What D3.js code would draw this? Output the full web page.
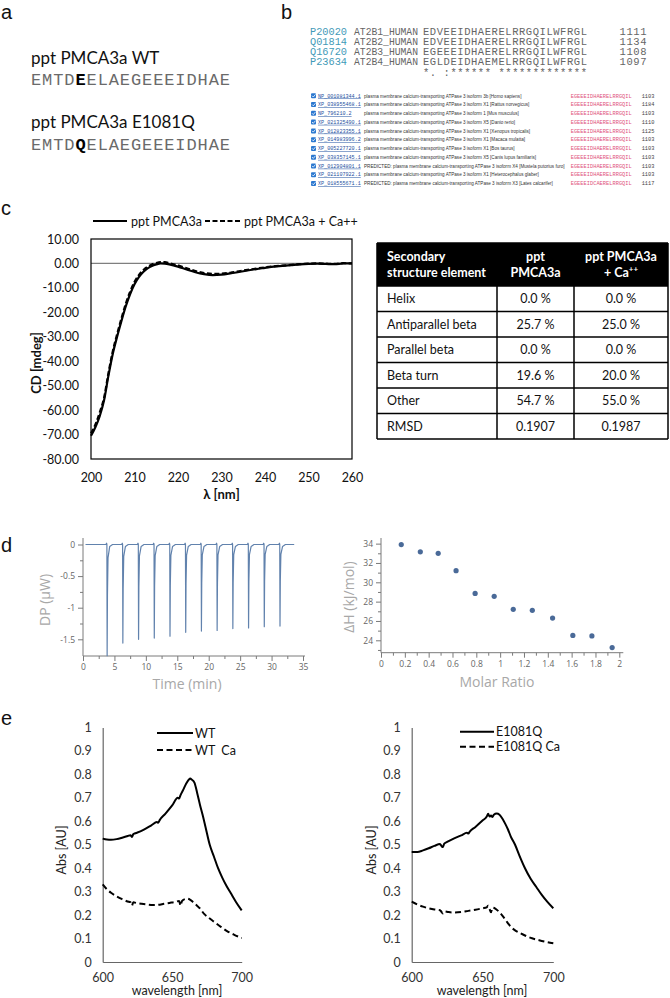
<!DOCTYPE html>
<html><head><meta charset="utf-8">
<script src="https://cdn.jsdelivr.net/npm/d3@7"></script>
<style>body{margin:0;background:#fff}svg{display:block}</style>
</head><body>
<script>
// ---------- DATA ----------
// panel a
const peptideNames = ["ppt PMCA3a WT", "ppt PMCA3a E1081Q"];
const peptideSeqs = ["EMTDEELAEGEEEIDHAE", "EMTDQELAEGEEEIDHAE"];
const mutatedIndex = 4;
// panel b – clustal alignment
const alignIds = ["P20020", "Q01814", "Q16720", "P23634"];
const alignNames = ["AT2B1_HUMAN", "AT2B2_HUMAN", "AT2B3_HUMAN", "AT2B4_HUMAN"];
const alignSeqs = ["EDVEEIDHAERELRRGQILWFRGL", "EDVEEIDHAERELRRGQILWFRGL", "EGEEEIDHAERELRRGQILWFRGL", "EGLDEIDHAEMELRRGQILWFRGL"];
const alignEnds = ["1111", "1134", "1108", "1097"];
const alignConservation = "*. :****** *************";
// panel b – blast list
const blastIds = ["NP_001081344.1","XP_038955468.1","NP_796210.2","XP_021325490.1","XP_012823355.1","XP_014983996.2","XP_005227720.1","XP_038357145.1","XP_012904801.1","XP_021107922.1","XP_018555671.1"];
const blastDescs = [
 "plasma membrane calcium-transporting ATPase 3 isoform 3b [Homo sapiens]",
 "plasma membrane calcium-transporting ATPase 3 isoform X1 [Rattus norvegicus]",
 "plasma membrane calcium-transporting ATPase 3 isoform 1 [Mus musculus]",
 "plasma membrane calcium-transporting ATPase 3 isoform X5 [Danio rerio]",
 "plasma membrane calcium-transporting ATPase 3 isoform X1 [Xenopus tropicalis]",
 "plasma membrane calcium-transporting ATPase 3 isoform X1 [Macaca mulatta]",
 "plasma membrane calcium-transporting ATPase 3 isoform X1 [Bos taurus]",
 "plasma membrane calcium-transporting ATPase 3 isoform X5 [Canis lupus familiaris]",
 "PREDICTED: plasma membrane calcium-transporting ATPase 3 isoform X4 [Mustela putorius furo]",
 "plasma membrane calcium-transporting ATPase 3 isoform X1 [Heterocephalus glaber]",
 "PREDICTED: plasma membrane calcium-transporting ATPase 3 isoform X3 [Lates calcarifer]"];
const blastSeqs = ["EGEEEIDHAERELRRGQIL","EGEEEIDHAERELRRGQIL","EGEEEIDHAERELRRGQIL","EGEEEIDHAERELRRGQIL","EGEEEIDHAERELRRGQIL","EGEEEIDHAERELRRGQIL","EGEEEIDHAERELRRGQIL","EGEEEIDHAERELRRGQIL","EGEEEIDHAERELRRGQIL","EGEEEIDHAERELRRGQIL","EGEEEIDCAERELRRGQIL"];
const blastEnds = ["1103","1184","1103","1110","1125","1103","1103","1103","1103","1103","1117"];
// panel c – CD spectra
const cdWavelength = [200,201,202,203,204,205,206,207,208,209,210,211,212,213,214,215,216,217,218,220,222,224,226,228,230,232,234,236,238,240,242,244,246,248,250,252,254,256,258,260];
const cdNoCa = [-70.5,-67,-62.5,-56,-46,-37,-30,-23.5,-17.5,-12.5,-8.5,-5.6,-3.5,-2.0,-1.0,-0.4,0.0,-0.1,-0.4,-1.3,-2.5,-3.6,-4.4,-4.8,-4.6,-4.1,-3.5,-2.9,-2.3,-1.8,-1.3,-1.0,-0.7,-0.4,-0.2,-0.1,-0.2,-0.3,0.0,0.0];
const cdCa   = [-69.5,-66,-61,-55,-45,-36,-29,-22.5,-16.5,-11.5,-7.6,-4.8,-2.8,-1.4,-0.4,0.2,0.5,0.5,0.1,-0.8,-2.0,-3.1,-3.9,-4.3,-4.2,-3.8,-3.2,-2.6,-2.1,-1.6,-1.2,-0.9,-0.6,-0.3,-0.1,0.0,-0.1,-0.2,0.1,0.0];
const cdLegend = ["ppt PMCA3a", "ppt PMCA3a + Ca++"];
// panel c – table
const tableHeaders = [["Secondary","structure element"],["ppt","PMCA3a"],["ppt PMCA3a","+ Ca"]];
const tableRows = ["Helix","Antiparallel beta","Parallel beta","Beta turn","Other","RMSD"];
const tableNoCa = ["0.0 %","25.7 %","0.0 %","19.6 %","54.7 %","0.1907"];
const tableCa = ["0.0 %","25.0 %","0.0 %","20.0 %","55.0 %","0.1987"];
// panel d – ITC
const itcTimes = [3.8,6.3,8.8,11.3,13.8,16.3,18.8,21.3,23.8,26.3,28.8,31.3];
const itcPeaks = [-1.76,-1.56,-1.50,-1.48,-1.45,-1.39,-1.37,-1.36,-1.33,-1.32,-1.30,-1.29];
const itcStart = 0.4, itcEnd = 33.6;
const molarRatio = [0.17,0.33,0.48,0.63,0.79,0.95,1.11,1.27,1.44,1.61,1.77,1.94];
const deltaH = [33.9,33.15,33.0,31.2,28.85,28.55,27.2,27.1,26.3,24.5,24.45,23.25];
// panel e – absorbance
const wtWl = [600,603,606,610,614,618,620,621,622,623,625,630,635,639,640,641,645,650,654,655,656,658,660,662,663,664,666,668,670,672,674,677,680,683,686,689,692,696,700];
const wtAbs = [0.526,0.522,0.521,0.524,0.530,0.537,0.541,0.533,0.545,0.548,0.552,0.566,0.583,0.597,0.594,0.605,0.632,0.668,0.700,0.697,0.712,0.735,0.760,0.778,0.782,0.778,0.765,0.720,0.670,0.625,0.575,0.500,0.450,0.400,0.360,0.325,0.295,0.255,0.220];
const wtCaWl = [600,603,606,610,614,618,620,621,622,624,628,632,636,640,644,648,652,655,656,657,659,661,663,665,667,670,673,676,680,685,690,695,700];
const wtCaAbs = [0.331,0.310,0.295,0.280,0.268,0.258,0.255,0.240,0.255,0.252,0.248,0.245,0.243,0.244,0.248,0.252,0.256,0.260,0.240,0.260,0.268,0.270,0.265,0.256,0.245,0.228,0.205,0.190,0.172,0.150,0.130,0.115,0.102];
const mutWl = [600,604,608,612,616,620,621,622,623,625,630,635,639,640,641,645,650,653,654,655,656,657,658,660,662,664,666,668,670,673,676,680,684,688,692,696,700];
const mutAbs = [0.469,0.469,0.476,0.485,0.495,0.503,0.495,0.490,0.505,0.512,0.527,0.540,0.551,0.548,0.556,0.576,0.603,0.620,0.632,0.620,0.625,0.618,0.628,0.633,0.628,0.612,0.590,0.565,0.535,0.500,0.455,0.400,0.355,0.320,0.285,0.255,0.229];
const mutCaWl = [600,604,608,612,616,620,621,622,623,626,630,635,640,645,650,653,654,655,656,657,659,661,663,665,668,670,673,676,680,685,690,695,700];
const mutCaAbs = [0.257,0.245,0.236,0.229,0.224,0.221,0.214,0.207,0.216,0.213,0.211,0.213,0.218,0.223,0.229,0.233,0.240,0.226,0.212,0.232,0.228,0.218,0.205,0.190,0.165,0.150,0.135,0.125,0.113,0.101,0.093,0.086,0.080];
const absLegendLeft = ["WT", "WT  Ca"];
const absLegendRight = ["E1081Q", "E1081Q Ca"];
const panelLetters = ["a","b","c","d","e"];

// ---------- DRAW ----------
const svg = d3.select("body").append("svg").attr("width",670).attr("height",998)
  .style("font-family","Lato, 'Open Sans', sans-serif");
svg.append("rect").attr("width",670).attr("height",998).attr("fill","#fff");

const letterPos = [[1,19],[281,19],[1,215],[1,552],[1,725]];
panelLetters.forEach((l,i)=>svg.append("text").attr("x",letterPos[i][0]).attr("y",letterPos[i][1])
  .attr("font-family","'Liberation Sans', Arial, sans-serif").attr("font-size",20).attr("fill","#111").text(l));

// panel a
const aNameY = [64, 128], aSeqY = [85, 150];
peptideNames.forEach((n,i)=>{
  svg.append("text").attr("x",31).attr("y",aNameY[i]).attr("font-size",17).attr("fill","#111").text(n);
  const s = peptideSeqs[i];
  const t = svg.append("text").attr("x",31).attr("y",aSeqY[i])
    .attr("font-family","'Liberation Mono', monospace").attr("font-size",17)
    .attr("letter-spacing",0.9).attr("fill","#6a6a6a");
  t.append("tspan").text(s.slice(0,mutatedIndex));
  t.append("tspan").attr("font-weight","bold").attr("fill","#000").text(s[mutatedIndex]);
  t.append("tspan").text(s.slice(mutatedIndex+1));
});

// panel b alignment
const bLineY = d3.scaleLinear().domain([0,4]).range([35,75.5]);
const mono = "'Liberation Mono', monospace";
alignIds.forEach((id,i)=>{
  const y = bLineY(i);
  svg.append("text").attr("x",310).attr("y",y).attr("font-family",mono).attr("font-size",10.5)
    .attr("fill","#3f9ab8").attr("textLength",37).attr("lengthAdjust","spacingAndGlyphs").text(id);
  svg.append("text").attr("x",354).attr("y",y).attr("font-family",mono).attr("font-size",10.5)
    .attr("fill","#666").attr("textLength",64).attr("lengthAdjust","spacingAndGlyphs").text(alignNames[i]);
  svg.append("text").attr("x",423).attr("y",y).attr("font-family",mono).attr("font-size",10.5)
    .attr("fill","#666").attr("textLength",164).attr("lengthAdjust","spacing").text(alignSeqs[i]);
  svg.append("text").attr("x",619.5).attr("y",y).attr("font-family",mono).attr("font-size",10.5)
    .attr("fill","#666").attr("textLength",27).attr("lengthAdjust","spacing").text(alignEnds[i]);
});
svg.append("text").attr("x",423).attr("y",bLineY(4)).attr("font-family",mono).attr("font-size",10.5)
  .attr("fill","#666").attr("textLength",164).attr("lengthAdjust","spacing")
  .style("white-space","pre").text(alignConservation);

// panel b blast list
const blastY = d3.scaleLinear().domain([0,10]).range([97.5,185.2]);
blastIds.forEach((id,i)=>{
  const y = blastY(i);
  svg.append("rect").attr("x",311).attr("y",y-4.2).attr("width",5).attr("height",5).attr("rx",1)
    .attr("fill","#2b78d0");
  svg.append("path").attr("d",`M${312},${y-1.8} l1.3,1.3 l2.2,-2.6`).attr("stroke","#fff")
    .attr("stroke-width",0.8).attr("fill","none");
  svg.append("text").attr("x",318).attr("y",y).attr("font-family",mono).attr("font-size",5.1)
    .attr("fill","#1d4fa0").attr("text-decoration","underline").text(id);
  svg.append("text").attr("x",364).attr("y",y).attr("font-family","'Liberation Sans', Arial, sans-serif")
    .attr("font-size",4.6).attr("fill","#333").text(blastDescs[i]);
  svg.append("text").attr("x",570.7).attr("y",y).attr("font-family",mono).attr("font-size",5.3)
    .attr("fill","#e0507c").attr("textLength",61).attr("lengthAdjust","spacing").text(blastSeqs[i]);
  svg.append("text").attr("x",641.7).attr("y",y).attr("font-family",mono).attr("font-size",5.3)
    .attr("fill","#444").text(blastEnds[i]);
});

// panel c – CD chart
const xC = d3.scaleLinear().domain([200,260]).range([91,352]);
const yC = d3.scaleLinear().domain([-80,10]).range([459,239]);
const gC = svg.append("g");
gC.append("line").attr("x1",xC(200)).attr("x2",xC(260)).attr("y1",yC(0)).attr("y2",yC(0))
  .attr("stroke","#7f7f7f").attr("stroke-width",1.3);
const yAxC = gC.append("g").attr("transform",`translate(${xC(200)},0)`)
  .call(d3.axisLeft(yC).tickValues(d3.range(-80,11,10)).tickSize(0).tickPadding(12).tickFormat(d=>d.toFixed(2)));
const xAxC = gC.append("g").attr("transform",`translate(0,${yC(-80)})`)
  .call(d3.axisBottom(xC).tickValues(d3.range(200,261,10)).tickSize(0).tickPadding(14));
[yAxC,xAxC].forEach(a=>{a.select(".domain").remove();
  a.selectAll("text").attr("font-family","Lato, sans-serif").attr("font-size",12.5).attr("fill","#111");});
const lineC = d3.line().x((d,i)=>xC(cdWavelength[i])).y(d=>yC(d)).curve(d3.curveMonotoneX);
gC.append("path").attr("d",lineC(cdNoCa)).attr("fill","none").attr("stroke","#000").attr("stroke-width",2.2);
gC.append("path").attr("d",lineC(cdCa)).attr("fill","none").attr("stroke","#000").attr("stroke-width",2.2)
  .attr("stroke-dasharray","5,2.5");
gC.append("rect").attr("x",xC(200)).attr("y",yC(10)).attr("width",xC(260)-xC(200)).attr("height",yC(-80)-yC(10))
  .attr("fill","none").attr("stroke","#000").attr("stroke-width",1.2);
gC.append("text").attr("x",(xC(200)+xC(260))/2).attr("y",499).attr("text-anchor","middle")
  .attr("font-weight","bold").attr("font-size",13).attr("fill","#111").text("λ [nm]");
gC.append("text").attr("transform","translate(41,363) rotate(-90)").attr("text-anchor","middle")
  .attr("font-weight","bold").attr("font-size",13).attr("fill","#111").text("CD [mdeg]");
// legend
const legC = [[93,127,131,null],[205,240,244,"5,2.5"]];
cdLegend.forEach((t,i)=>{
  const L = legC[i];
  gC.append("line").attr("x1",L[0]).attr("x2",L[1]).attr("y1",221).attr("y2",221).attr("stroke","#000")
    .attr("stroke-width",2.2).attr("stroke-dasharray",L[3]);
  gC.append("text").attr("x",L[2]).attr("y",225.5).attr("font-size",12.5).attr("fill","#111").text(t);
});

// panel c – table
const colX = [377,497,574,668];
const rowY = [243,286,311.5,337,362.5,388,413.5,439];
const gT = svg.append("g");
gT.append("rect").attr("x",colX[0]).attr("y",rowY[0]).attr("width",colX[3]-colX[0]).attr("height",rowY[1]-rowY[0]).attr("fill","#000");
rowY.forEach(y=>gT.append("line").attr("x1",colX[0]).attr("x2",colX[3]).attr("y1",y).attr("y2",y).attr("stroke","#000").attr("stroke-width",1.5));
colX.forEach(x=>gT.append("line").attr("x1",x).attr("x2",x).attr("y1",rowY[0]).attr("y2",rowY[7]).attr("stroke","#000").attr("stroke-width",1.5));
tableHeaders.forEach((h,c)=>{
  const x = c===0 ? colX[0]+10 : (colX[c]+colX[c+1])/2;
  h.forEach((line,k)=>{
    const t = gT.append("text").attr("x",x).attr("y",[261,276.5][k]).attr("font-size",12.5).attr("font-weight","bold")
      .attr("fill","#fff").attr("text-anchor",c===0?"start":"middle");
    t.append("tspan").text(line);
    if(c===2 && k===1) t.append("tspan").attr("font-size",8).attr("dy",-5).text("++");
  });
});
tableRows.forEach((r,i)=>{
  const yb = (rowY[i+1]+rowY[i+2])/2 + 4.5;
  gT.append("text").attr("x",colX[0]+10).attr("y",yb).attr("font-size",12.5).attr("fill","#111").text(r);
  gT.append("text").attr("x",(colX[1]+colX[2])/2).attr("y",yb).attr("text-anchor","middle").attr("font-size",12.5).attr("fill","#111").text(tableNoCa[i]);
  gT.append("text").attr("x",(colX[2]+colX[3])/2).attr("y",yb).attr("text-anchor","middle").attr("font-size",12.5).attr("fill","#111").text(tableCa[i]);
});

// panel d helpers
const dFont = "'Open Sans', 'Noto Sans', sans-serif";
function styleAxis(a){
  a.selectAll("line").attr("stroke","#7a7a7a");
  a.select(".domain").remove();
  a.selectAll("text").attr("font-family",dFont).attr("font-size",8.5).attr("fill","#666");
}
// panel d left – raw ITC
const xL = d3.scaleLinear().domain([0,35]).range([83,303]);
const yL = d3.scaleLinear().domain([0,-1.5]).range([544.5,639.3]);
const gL = svg.append("g");
const yLbot = 656, yLtop = 538;
gL.append("line").attr("x1",xL(0)).attr("x2",305).attr("y1",yLbot).attr("y2",yLbot).attr("stroke","#7a7a7a");
gL.append("line").attr("x1",xL(0)).attr("x2",xL(0)).attr("y1",yLtop).attr("y2",yLbot).attr("stroke","#7a7a7a");
styleAxis(gL.append("g").attr("transform",`translate(${xL(0)},0)`)
  .call(d3.axisLeft(yL).tickValues([0,-0.5,-1,-1.5]).tickSize(5).tickPadding(3).tickFormat(d=>d===0?"0":String(d))));
styleAxis(gL.append("g").attr("transform",`translate(${xL(0)},0)`)
  .call(d3.axisLeft(yL).tickValues([-0.25,-0.75,-1.25]).tickSize(3).tickFormat("")));
styleAxis(gL.append("g").attr("transform",`translate(0,${yLbot})`)
  .call(d3.axisBottom(xL).tickValues(d3.range(0,36,5)).tickSize(5).tickPadding(3)));
styleAxis(gL.append("g").attr("transform",`translate(0,${yLbot})`)
  .call(d3.axisBottom(xL).tickValues(d3.range(2.5,35,5)).tickSize(3).tickFormat("")));
// trace built from injection times and peak depths
const trace = [[itcStart,0]];
itcTimes.forEach((t,i)=>{
  const p = itcPeaks[i];
  trace.push([t-0.15,0],[t-0.05,0.02],[t,0],[t+0.04,p],[t+0.09,p*0.45],[t+0.18,p*0.12],[t+0.45,-0.03],[t+0.9,0]);
});
trace.push([itcEnd,0]);
gL.append("path").attr("d",d3.line().x(d=>xL(d[0])).y(d=>yL(d[1]))(trace))
  .attr("fill","none").attr("stroke","#6182ad").attr("stroke-width",1.2).attr("stroke-linejoin","round");
gL.append("text").attr("x",187).attr("y",689).attr("text-anchor","middle").attr("font-family",dFont)
  .attr("font-size",14).attr("fill","#a8a8a8").text("Time (min)");
gL.append("text").attr("transform","translate(50,600) rotate(-90)").attr("text-anchor","middle").attr("font-family",dFont)
  .attr("font-size",14).attr("fill","#a8a8a8").text("DP (μW)");

// panel d right – integrated heats
const xR = d3.scaleLinear().domain([0,2]).range([381,619.3]);
const yR = d3.scaleLinear().domain([24,30]).range([640.3,582.3]);
const gR = svg.append("g");
const yRbot = 652.7, yRtop = 538;
gR.append("line").attr("x1",xR(0)).attr("x2",623.3).attr("y1",yRbot).attr("y2",yRbot).attr("stroke","#7a7a7a");
gR.append("line").attr("x1",xR(0)).attr("x2",xR(0)).attr("y1",yRtop).attr("y2",yRbot).attr("stroke","#7a7a7a");
styleAxis(gR.append("g").attr("transform",`translate(${xR(0)},0)`)
  .call(d3.axisLeft(yR).tickValues(d3.range(24,35,2)).tickSize(5).tickPadding(3).tickFormat(d3.format("d"))));
styleAxis(gR.append("g").attr("transform",`translate(${xR(0)},0)`)
  .call(d3.axisLeft(yR).tickValues(d3.range(23,35,2)).tickSize(3).tickFormat("")));
styleAxis(gR.append("g").attr("transform",`translate(0,${yRbot})`)
  .call(d3.axisBottom(xR).tickValues(d3.range(0,11).map(d=>d*0.2)).tickSize(5).tickPadding(3)
    .tickFormat(d=>d3.format("~g")(+d.toFixed(1)))));
styleAxis(gR.append("g").attr("transform",`translate(0,${yRbot})`)
  .call(d3.axisBottom(xR).tickValues(d3.range(0,10).map(d=>0.1+d*0.2)).tickSize(3).tickFormat("")));
gR.selectAll("circle.pt").data(molarRatio).enter().append("circle")
  .attr("cx",d=>xR(d)).attr("cy",(d,i)=>yR(deltaH[i])).attr("r",2.6).attr("fill","#4a6a98");
gR.append("text").attr("x",497).attr("y",687).attr("text-anchor","middle").attr("font-family",dFont)
  .attr("font-size",14).attr("fill","#a8a8a8").text("Molar Ratio");
gR.append("text").attr("transform","translate(354,597) rotate(-90)").attr("text-anchor","middle").attr("font-family",dFont)
  .attr("font-size",14).attr("fill","#a8a8a8").text("ΔH (kJ/mol)");

// panel e
const yE = d3.scaleLinear().domain([0,1]).range([962,727.5]);
function absChart(x0, x1, solidX, solidY, dashX, dashY, legend, leg, titleX, yTitleX){
  const xE = d3.scaleLinear().domain([600,700]).range([x0,x1]);
  const g = svg.append("g");
  const ya = g.append("g").attr("transform",`translate(${x0},0)`)
    .call(d3.axisLeft(yE).tickValues(d3.range(0,11).map(d=>d/10)).tickSize(0).tickSizeOuter(0).tickPadding(11)
      .tickFormat(d=>d3.format("~g")(d)));
  const xa = g.append("g").attr("transform",`translate(0,${yE(0)})`)
    .call(d3.axisBottom(xE).tickValues([600,650,700]).tickSize(0).tickSizeOuter(0).tickPadding(11));
  [ya,xa].forEach(a=>{a.select(".domain").attr("stroke","#666").attr("stroke-width",1.2);
    a.selectAll("text").attr("font-family","Lato, sans-serif").attr("font-size",12.5).attr("fill","#333");});
  const ln = d3.line().curve(d3.curveMonotoneX);
  g.append("path").attr("d",ln(solidX.map((w,i)=>[xE(w),yE(solidY[i])]))).attr("fill","none")
    .attr("stroke","#000").attr("stroke-width",2);
  g.append("path").attr("d",ln(dashX.map((w,i)=>[xE(w),yE(dashY[i])]))).attr("fill","none")
    .attr("stroke","#000").attr("stroke-width",2).attr("stroke-dasharray","6,3.5");
  legend.forEach((t,i)=>{
    g.append("line").attr("x1",leg[0]).attr("x2",leg[1]).attr("y1",leg[3]+i*leg[4]).attr("y2",leg[3]+i*leg[4])
      .attr("stroke","#000").attr("stroke-width",2).attr("stroke-dasharray",i?"6,3.5":null);
    g.append("text").attr("x",leg[2]).attr("y",leg[3]+i*leg[4]+4.5).attr("font-size",12.5).attr("fill","#111")
      .style("white-space","pre").text(t);
  });
  g.append("text").attr("x",titleX).attr("y",995).attr("text-anchor","middle").attr("font-size",12.5)
    .attr("fill","#222").text("wavelength [nm]");
  g.append("text").attr("transform",`translate(${yTitleX},850) rotate(-90)`).attr("text-anchor","middle")
    .attr("font-size",12.5).attr("fill","#222").text("Abs [AU]");
}
absChart(102.7, 241.7, wtWl, wtAbs, wtCaWl, wtCaAbs, absLegendLeft, [157,193,195,733,17], 177, 66);
absChart(411.7, 553.3, mutWl, mutAbs, mutCaWl, mutCaAbs, absLegendRight, [460,494,496,731.7,15], 482, 376);
</script></body></html>
